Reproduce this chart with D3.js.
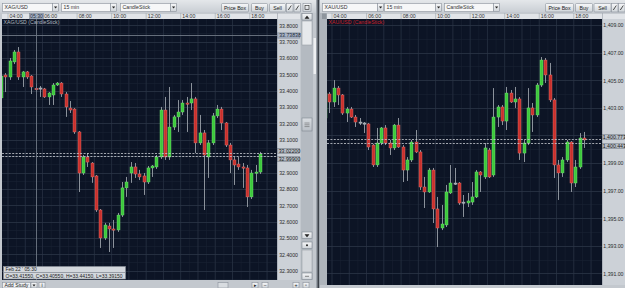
<!DOCTYPE html>
<html><head><meta charset="utf-8">
<script src="https://cdn.jsdelivr.net/npm/d3@7"></script>
<style>
html,body{margin:0;padding:0;background:#c3c8ce;overflow:hidden}
svg{display:block}
</style></head><body>
<svg id="c" width="625" height="288"></svg>
<script>
// ---------- DATA ----------
const times = ["03:30","03:45","04:00","04:15","04:30","04:45","05:00","05:15","05:30","05:45",
"06:00","06:15","06:30","06:45","07:00","07:15","07:30","07:45","08:00","08:15",
"08:30","08:45","09:00","09:15","09:30","09:45","10:00","10:15","10:30","10:45",
"11:00","11:15","11:30","11:45","12:00","12:15","12:30","12:45","13:00","13:15",
"13:30","13:45","14:00","14:15","14:30","14:45","15:00","15:15","15:30","15:45",
"16:00","16:15","16:30","16:45","17:00","17:15","17:30","17:45","18:00","18:15","18:30"];

const timeTicks = ["04:00","06:00","08:00","10:00","12:00","14:00","16:00","18:00"];

const xagOpen = [33.356,33.496,33.484,33.576,33.637,33.484,33.515,33.490,33.4155,33.417,
33.411,33.362,33.374,33.435,33.447,33.380,33.294,33.288,33.148,32.897,
32.995,32.958,32.879,32.671,32.500,32.573,32.555,32.549,32.640,32.806,
32.897,32.934,32.891,32.879,32.842,32.928,32.934,32.995,33.282,32.995,
33.178,33.240,33.270,33.325,33.325,33.350,33.081,33.142,32.995,33.081,
33.246,33.288,33.203,33.068,32.977,32.952,32.934,32.928,32.751,32.897,32.903];
const xagHigh = [33.502,33.508,33.600,33.649,33.667,33.521,33.521,33.496,33.4415,33.429,
33.417,33.392,33.447,33.453,33.453,33.392,33.337,33.294,33.154,33.007,
33.019,32.964,32.885,32.677,32.592,32.592,32.610,32.653,32.842,32.873,
32.964,32.958,32.916,32.897,32.940,32.946,33.007,33.301,33.362,33.423,
33.252,33.343,33.343,33.362,33.447,33.362,33.252,33.160,33.099,33.264,
33.313,33.301,33.209,33.081,32.995,32.995,32.958,32.946,32.916,32.946,33.026];
const xagLow = [33.343,33.392,33.466,33.563,33.466,33.423,33.472,33.380,33.3915,33.362,
33.356,33.313,33.313,33.429,33.362,33.240,33.264,33.136,32.781,32.885,
32.934,32.837,32.659,32.439,32.488,32.414,32.439,32.537,32.628,32.751,
32.837,32.867,32.854,32.763,32.830,32.873,32.922,32.983,32.977,32.977,
33.160,33.148,33.252,33.148,33.282,33.019,33.068,32.671,32.867,33.068,
33.233,33.160,33.056,32.897,32.824,32.916,32.806,32.689,32.738,32.842,32.891];
const xagClose = [33.490,33.484,33.582,33.637,33.484,33.515,33.484,33.423,33.4055,33.414,
33.362,33.386,33.435,33.447,33.380,33.301,33.282,33.148,32.897,32.995,
32.964,32.873,32.671,32.500,32.579,32.555,32.549,32.640,32.806,32.842,
32.934,32.891,32.873,32.842,32.928,32.940,32.995,33.282,32.995,33.178,
33.240,33.270,33.325,33.319,33.350,33.081,33.142,33.007,33.081,33.246,
33.288,33.203,33.068,32.977,32.946,32.934,32.928,32.751,32.897,32.903,33.013];

const xauOpen = [1402.26,1404.00,1403.42,1404.43,1403.93,1402.62,1402.91,1402.33,1401.97,1401.90,
1401.83,1400.30,1398.86,1400.45,1401.54,1400.45,1400.09,1401.75,1400.16,1398.49,
1399.22,1400.52,1399.80,1397.26,1396.90,1398.49,1395.67,1394.29,1394.51,1396.83,
1397.55,1397.55,1396.17,1396.10,1396.17,1396.54,1398.35,1397.99,1399.94,1398.13,
1402.33,1403.06,1402.04,1404.07,1403.42,1403.64,1399.72,1400.45,1402.99,1402.48,
1404.65,1406.46,1405.38,1403.57,1398.86,1398.28,1399.22,1400.52,1397.55,1398.71,1400.81];
const xauHigh = [1404.29,1404.14,1405.01,1404.58,1404.00,1403.06,1403.06,1402.48,1402.26,1401.97,
1401.90,1400.38,1401.54,1401.61,1401.75,1400.67,1401.83,1402.26,1400.30,1399.43,
1400.67,1401.39,1399.94,1397.99,1398.64,1398.64,1396.54,1395.96,1397.41,1398.86,
1398.64,1397.62,1396.68,1396.83,1397.62,1398.49,1398.42,1400.45,1400.09,1404.43,
1403.20,1403.20,1404.51,1404.29,1404.51,1403.78,1400.67,1404.43,1403.35,1404.80,
1406.68,1406.61,1406.25,1403.71,1399.22,1399.43,1400.67,1400.59,1399.22,1401.17,1401.25];
const xauLow = [1402.12,1402.62,1403.06,1403.20,1402.48,1401.97,1402.26,1401.61,1401.75,1401.17,
1399.94,1398.71,1398.71,1400.30,1400.30,1399.58,1399.94,1400.09,1397.62,1397.70,
1399.07,1399.72,1397.04,1395.74,1396.83,1394.65,1392.91,1394.14,1394.36,1396.75,
1397.41,1395.96,1395.09,1395.81,1395.96,1396.46,1396.90,1397.84,1397.91,1397.99,
1401.61,1401.75,1401.39,1403.35,1402.99,1399.22,1399.07,1400.30,1401.25,1402.33,
1404.51,1404.80,1403.42,1397.91,1396.32,1397.99,1399.07,1396.90,1397.26,1398.57,1400.09];
const xauClose = [1404.07,1403.42,1404.43,1403.93,1402.62,1402.91,1402.33,1401.97,1401.93,1401.83,
1400.16,1398.86,1400.45,1401.54,1400.45,1400.09,1401.75,1400.16,1398.49,1399.22,
1400.52,1399.80,1397.26,1396.90,1398.49,1395.67,1394.29,1394.58,1396.90,1397.55,
1397.48,1396.10,1396.10,1396.25,1396.54,1398.35,1398.13,1400.09,1397.99,1402.33,
1403.06,1402.04,1404.07,1403.42,1403.64,1399.72,1400.45,1402.99,1402.48,1404.65,
1406.46,1405.38,1403.57,1398.86,1398.28,1399.22,1400.52,1397.55,1398.71,1400.81,1400.67];

const xagPriceTicks = [32.3,32.4,32.5,32.6,32.7,32.8,32.9,33.0,33.1,33.2,33.3,33.4,33.5,33.6,33.7,33.8];
const xauPriceTicks = [1391,1393,1395,1397,1399,1401,1403,1405,1407,1409];
const xagQuotes = [33.022, 32.999];
const xagQuoteLabels = ["33.02200","32.99900"];
const xauQuotes = [1400.773, 1400.443];
const xauQuoteLabels = ["1,400.773","1,400.443"];
const crossTime = "05:30", crossPrice = 33.73838, crossLabel = "33.73838";
const infoLine1 = "Feb 22 ' 05:30";
const infoLine2 = "O=33.41550, C=33.40550, H=33.44150, L=33.39150";

// ---------- HELPERS ----------
const FONT = "'Liberation Sans', Arial, sans-serif";
const FS = 5.2;
const hrs = s => { const [h,m] = s.split(":").map(Number); return h + m/60; };
const svg = d3.select("#c").attr("font-family", FONT);
const defs = svg.append("defs");
function grad(id, stops){
  const g = defs.append("linearGradient").attr("id",id).attr("x1",0).attr("y1",0).attr("x2",0).attr("y2",1);
  stops.forEach(([o,c]) => g.append("stop").attr("offset",o).attr("stop-color",c));
}
grad("tb", [[0,"#e4e7ea"],[1,"#c8cdd3"]]);
grad("btn", [[0,"#f7f8f9"],[1,"#cfd4d9"]]);
grad("sb", [[0,"#d9dde1"],[1,"#b9bfc6"]]);

function rect(g,x,y,w,h,fill,stroke){
  return g.append("rect").attr("x",x).attr("y",y).attr("width",w).attr("height",h)
    .attr("fill",fill).attr("stroke",stroke||"none").attr("stroke-width",stroke?0.6:0);
}
function text(g,x,y,t,fill,anchor,size){
  return g.append("text").attr("x",x).attr("y",y).text(t).attr("fill",fill||"#222")
    .attr("font-size",size||FS).attr("text-anchor",anchor||"start");
}
function dropdown(g,x,w,label){
  rect(g,x+0.5,3.5,w,8,"#f6f7f8","#8a929b");
  text(g,x+2.5,9.4,label,"#333");
  rect(g,x+w+0.5,3.5,6,8,"url(#btn)","#8a929b");
  g.append("path").attr("d",`M${x+w+2},${6.5} h3.2 l-1.6,2 z`).attr("fill","#222");
}
function button(g,x,w,label){
  rect(g,x+0.5,3.5,w,8.5,"url(#btn)","#8a929b").attr("rx",1);
  text(g,x+w/2+0.5,9.6,label,"#222","middle");
}

// ---------- PANEL ----------
function panel(o){
  const g = svg.append("g");
  rect(g,o.px0,0,o.px1-o.px0,288,"#c3c8ce");
  rect(g,o.px0,0,o.px1-o.px0,13,"url(#tb)");
  o.drops.forEach(d => dropdown(g,d[0],d[1],d[2]));
  o.buttons.forEach(d => button(g,d[0],d[1],d[2]));
  o.icons.forEach(d => { rect(g,d[0]+0.5,3.5,6.5,8.5,"url(#btn)","#8a929b");
    g.append("path").attr("d",`M${d[0]+2.3},${10} l3,-4.5`).attr("stroke","#222").attr("stroke-width",0.8); });

  const C = o.chart;
  const x = d3.scaleLinear().domain([4,18]).range([o.x04, o.x04 + 14*17.27]);
  const y = d3.scaleLinear().domain(o.yDomain).range([C.b, C.t]);

  // time axis bar
  rect(g,C.l,13,o.axR-C.l,6,"#e1e4e8");
  g.append("line").attr("x1",C.l).attr("x2",o.axR).attr("y1",13.3).attr("y2",13.3).attr("stroke","#9aa1a9").attr("stroke-width",0.5);
  // price axis area
  rect(g,C.r,C.t,o.axR-C.r,C.b-C.t,"#ccd1d7");
  g.append("line").attr("x1",C.r+0.5).attr("x2",C.r+0.5).attr("y1",13).attr("y2",C.b).attr("stroke","#9aa1a9").attr("stroke-width",0.6);

  // chart bg
  const clipId = "clip"+o.id;
  defs.append("clipPath").attr("id",clipId).append("rect").attr("x",C.l).attr("y",C.t).attr("width",C.r-C.l).attr("height",C.b-C.t);
  rect(g,C.l,C.t,C.r-C.l,C.b-C.t,"#0c1425");
  const pg = g.append("g").attr("clip-path",`url(#${clipId})`);

  // grid: minor
  const minorT = d3.range(3, 19.01, 0.5);
  pg.selectAll(".vmin").data(minorT).join("line")
    .attr("x1",d=>x(d)+0.5).attr("x2",d=>x(d)+0.5).attr("y1",C.t).attr("y2",C.b)
    .attr("stroke","#1a2233").attr("stroke-width",0.6);
  const yt = o.priceTicks;
  const step = yt[1]-yt[0];
  const minorY = d3.range(yt[0]-step, yt[yt.length-1]+step+1e-9, step/2);
  pg.selectAll(".hmin").data(minorY).join("line")
    .attr("x1",C.l).attr("x2",C.r).attr("y1",d=>Math.round(y(d))+0.5).attr("y2",d=>Math.round(y(d))+0.5)
    .attr("stroke","#1a2233").attr("stroke-width",0.6);
  // grid: major
  const majT = d3.range(3, 19.01, 1);
  pg.selectAll(".vmaj").data(majT).join("line")
    .attr("x1",d=>x(d)+0.5).attr("x2",d=>x(d)+0.5).attr("y1",C.t).attr("y2",C.b)
    .attr("stroke","#283244").attr("stroke-width",0.7);
  pg.selectAll(".hmaj").data(yt).join("line")
    .attr("x1",C.l).attr("x2",C.r).attr("y1",d=>Math.round(y(d))+0.5).attr("y2",d=>Math.round(y(d))+0.5)
    .attr("stroke","#2c3648").attr("stroke-width",0.7);

  // time axis (d3 axis)
  const xa = d3.axisBottom(x).tickValues(timeTicks.map(hrs))
    .tickFormat(d => timeTicks[timeTicks.map(hrs).indexOf(d)]).tickSize(6).tickPadding(0);
  const xg = g.append("g").attr("transform","translate(0,13)").call(xa);
  xg.select(".domain").remove();
  xg.selectAll(".tick line").attr("stroke","#a0a7af").attr("stroke-width",0.6);
  xg.selectAll(".tick text").attr("font-size",FS).attr("fill","#333").attr("text-anchor","start")
    .attr("dx",1.6).attr("y",4.9).attr("dy",0).attr("font-family",FONT);

  // title
  text(g,C.l+1.5,C.t+5,o.title,o.titleColor);

  // candles
  const n = times.length;
  const data = d3.range(n).map(i => ({t:hrs(times[i]), o:o.open[i], h:o.high[i], l:o.low[i], c:o.close[i]}));
  const bw = 3;
  const cg = pg.append("g");
  const cx = d => Math.round(x(d.t + 0.125)) + 0.5;
  cg.selectAll(".wick").data(data).join("line")
    .attr("x1",cx).attr("x2",cx).attr("y1",d=>y(d.h)).attr("y2",d=>y(d.l))
    .attr("stroke","#8b929b").attr("stroke-width",1);
  const col = d => Math.abs(d.c-d.o) < o.dojiEps ? "#9ea5ad" : (d.c > d.o ? "#3cc83c" : "#c8302c");
  const edge = d => Math.abs(d.c-d.o) < o.dojiEps ? "#c0c5cb" : (d.c > d.o ? "#7ce87a" : "#e87a76");
  cg.selectAll(".body").data(data).join("rect")
    .attr("x",d=>cx(d)-bw/2).attr("width",bw)
    .attr("y",d=>y(Math.max(d.o,d.c)))
    .attr("height",d=>Math.max(1.2, Math.abs(y(d.o)-y(d.c))))
    .attr("fill",col).attr("stroke",edge).attr("stroke-width",0.4);

  // quote dashed lines
  pg.selectAll(".q").data(o.quotes).join("line")
    .attr("x1",C.l).attr("x2",C.r).attr("y1",d=>Math.round(y(d))+0.5).attr("y2",d=>Math.round(y(d))+0.5)
    .attr("stroke","#c9cdd3").attr("stroke-width",0.8).attr("stroke-dasharray","2,1.4");

  // price axis (d3 axis) - labels hidden behind quote boxes are skipped
  const qTop = y(d3.max(o.quotes)) - 5.8, qBot = y(d3.min(o.quotes)) + 5.8;
  const visTicks = yt.filter(v => { const yy = y(v); return yy + 2.2 < qTop || yy - 2.2 > qBot; });
  const ya = d3.axisRight(y).tickValues(visTicks).tickFormat(o.fmt).tickSize(0).tickPadding(0);
  const yg = g.append("g").attr("transform",`translate(${o.labX},0)`).call(ya);
  yg.select(".domain").remove();
  yg.selectAll(".tick text").attr("font-size",FS).attr("fill","#2a2a2a").attr("font-family",FONT).attr("dy","0.35em");

  // quote labels
  o.quotes.forEach((q,i) => {
    const yy = Math.round(y(q))+0.5;
    const top = i===0 ? yy-5.2 : yy;
    rect(g,C.r+0.5,top,o.axR-C.r-1.2,5.2,"#b7bec7","#7d8590");
    text(g,o.labX-0.5,top+4.2,o.quoteLabels[i],"#1a1a1a");
  });

  o.extra && o.extra(g,x,y,C,pg);
  return {x,y};
}

// ---------- LEFT PANEL ----------
panel({
  id:"L", px0:0, px1:316,
  drops:[[2,50,"XAG/USD"],[61,49,"15 min"],[120,50,"CandleStick"]],
  buttons:[[221,27,"Price Box"],[251,16,"Buy"],[269,16,"Sell"]],
  icons:[[286],[293.5]],
  chart:{l:2,t:19,r:277,b:280}, axR:300, x04:7.5, labX:279.2,
  yDomain:[32.243,33.8385], priceTicks:xagPriceTicks, fmt:d3.format(".4f"),
  title:"XAG/USD (CandleStick)", titleColor:"#aeb5be",
  open:xagOpen, high:xagHigh, low:xagLow, close:xagClose, dojiEps:0.004,
  quotes:xagQuotes, quoteLabels:xagQuoteLabels,
  extra:(g,x,y,C,pg) => {
    // crosshair
    const cxp = Math.round(x(hrs(crossTime)+0.125))+0.5;
    const cyp = Math.round(y(crossPrice))+0.5;
    pg.append("line").attr("x1",cxp).attr("x2",cxp).attr("y1",C.t).attr("y2",C.b).attr("stroke","#6f7886").attr("stroke-width",0.9);
    pg.append("line").attr("x1",C.l).attr("x2",C.r).attr("y1",cyp).attr("y2",cyp).attr("stroke","#6f7886").attr("stroke-width",0.9);
    rect(g,cxp-7,13.5,14,5.5,"#a7b3c4","#7d8898");
    text(g,cxp,18,crossTime,"#1e2a3a","middle");
    rect(g,C.r+0.5,cyp-2.6,22.3,5.2,"#a9b5c6","#7d8898");
    text(g,279.2,cyp+1.7,crossLabel,"#1e2a3a");
    // info box
    rect(g,3.5,266.5,122,6,"#d3d7dc","#8a929b");
    text(g,5.5,271.2,infoLine1,"#222",null,4.9);
    rect(g,3.5,272.5,122,6.5,"#d3d7dc","#8a929b");
    text(g,5.5,277.5,infoLine2,"#222",null,4.9).attr("textLength",117).attr("lengthAdjust","spacingAndGlyphs");
    // scrollbar
    rect(g,301,13,12,267,"#b4bac1");
    [[13.5,"M305,18.5 h4 l-2,-2.6z"],[232,"M305,234.5 h4 l-2,2.6z"],[242,null],[273,"M305,276.3 h4"]].forEach(([yy,p]) => {
      rect(g,302,yy,10,6.5,"url(#btn)","#7f8791");
      if(p) g.append("path").attr("d",p).attr("fill","#222").attr("stroke","#222").attr("stroke-width",0.5);
      else g.append("circle").attr("cx",307).attr("cy",yy+3.2).attr("r",1).attr("fill","#222");
    });
    rect(g,302,250,10,22,"#d4d8dc","#9aa1a9");
    rect(g,302,118,10,13,"url(#sb)","#7f8791");
    [123,124.8,126.6].forEach(v => g.append("line").attr("x1",304.5).attr("x2",309.5).attr("y1",v).attr("y2",v).attr("stroke","#555").attr("stroke-width",0.5));
    rect(g,302,21,10,24,"#e6e9ec","#9aa1a9");
    rect(g,313.5,38,3,36,"#eef0f2");
    // bottom bar
    rect(g,0,280,316,8,"#c3c8ce");
    rect(g,2.5,282.5,28,5.5,"#eef0f2","#8a929b"); text(g,4.5,287,"Add Study","#222");
    rect(g,31,282.5,6,5.5,"url(#btn)","#8a929b"); g.append("path").attr("d","M32.5,284.5 h3 l-1.5,2z").attr("fill","#222");
    rect(g,39,282.5,6,5.5,"url(#btn)","#8a929b"); text(g,42,287,"i","#222","middle");
    rect(g,218,282.5,10,5.5,"#d8dce0","#8a929b");
    [[252,"▸"],[262,"−"],[293,"+"],[303,"▫"]].forEach(([bx,s]) => {
      rect(g,bx,282.5,6,5.5,"url(#btn)","#8a929b"); text(g,bx+3,287,s,"#222","middle");
    });
    // panel separator
    rect(g,316,0,4,288,"#9aa1a9");
    rect(g,317.5,0,1.5,288,"#3a4048");
    rect(g,303,3.5,8,8,"url(#btn)","#8a929b");
    g.append("rect").attr("x",305).attr("y",5.5).attr("width",4).attr("height",4).attr("fill","none").attr("stroke","#222").attr("stroke-width",0.6);
  }
});

// ---------- RIGHT PANEL ----------
panel({
  id:"R", px0:320, px1:625,
  drops:[[322,55,"XAU/USD"],[384,51,"15 min"],[444,49,"CandleStick"]],
  buttons:[[545,28,"Price Box"],[575,17,"Buy"],[593.5,17,"Sell"]],
  icons:[[611],[618]],
  chart:{l:327,t:19,r:602,b:285}, axR:625, x04:331.5, labX:603.3,
  yDomain:[1390.159,1409.435], priceTicks:xauPriceTicks, fmt:d3.format(",.2f"),
  title:"XAU/USD (CandleStick)", titleColor:"#c8202a",
  open:xauOpen, high:xauHigh, low:xauLow, close:xauClose, dojiEps:0.08,
  quotes:xauQuotes, quoteLabels:xauQuoteLabels,
  extra:(g,x,y,C) => {
    rect(g,320,13,7,275,"#aeb4bb");
    rect(g,322,13.5,4.5,5.5,"#8e959d");
    rect(g,320,285,305,3,"#c3c8ce");
  }
});
</script>
</body></html>
